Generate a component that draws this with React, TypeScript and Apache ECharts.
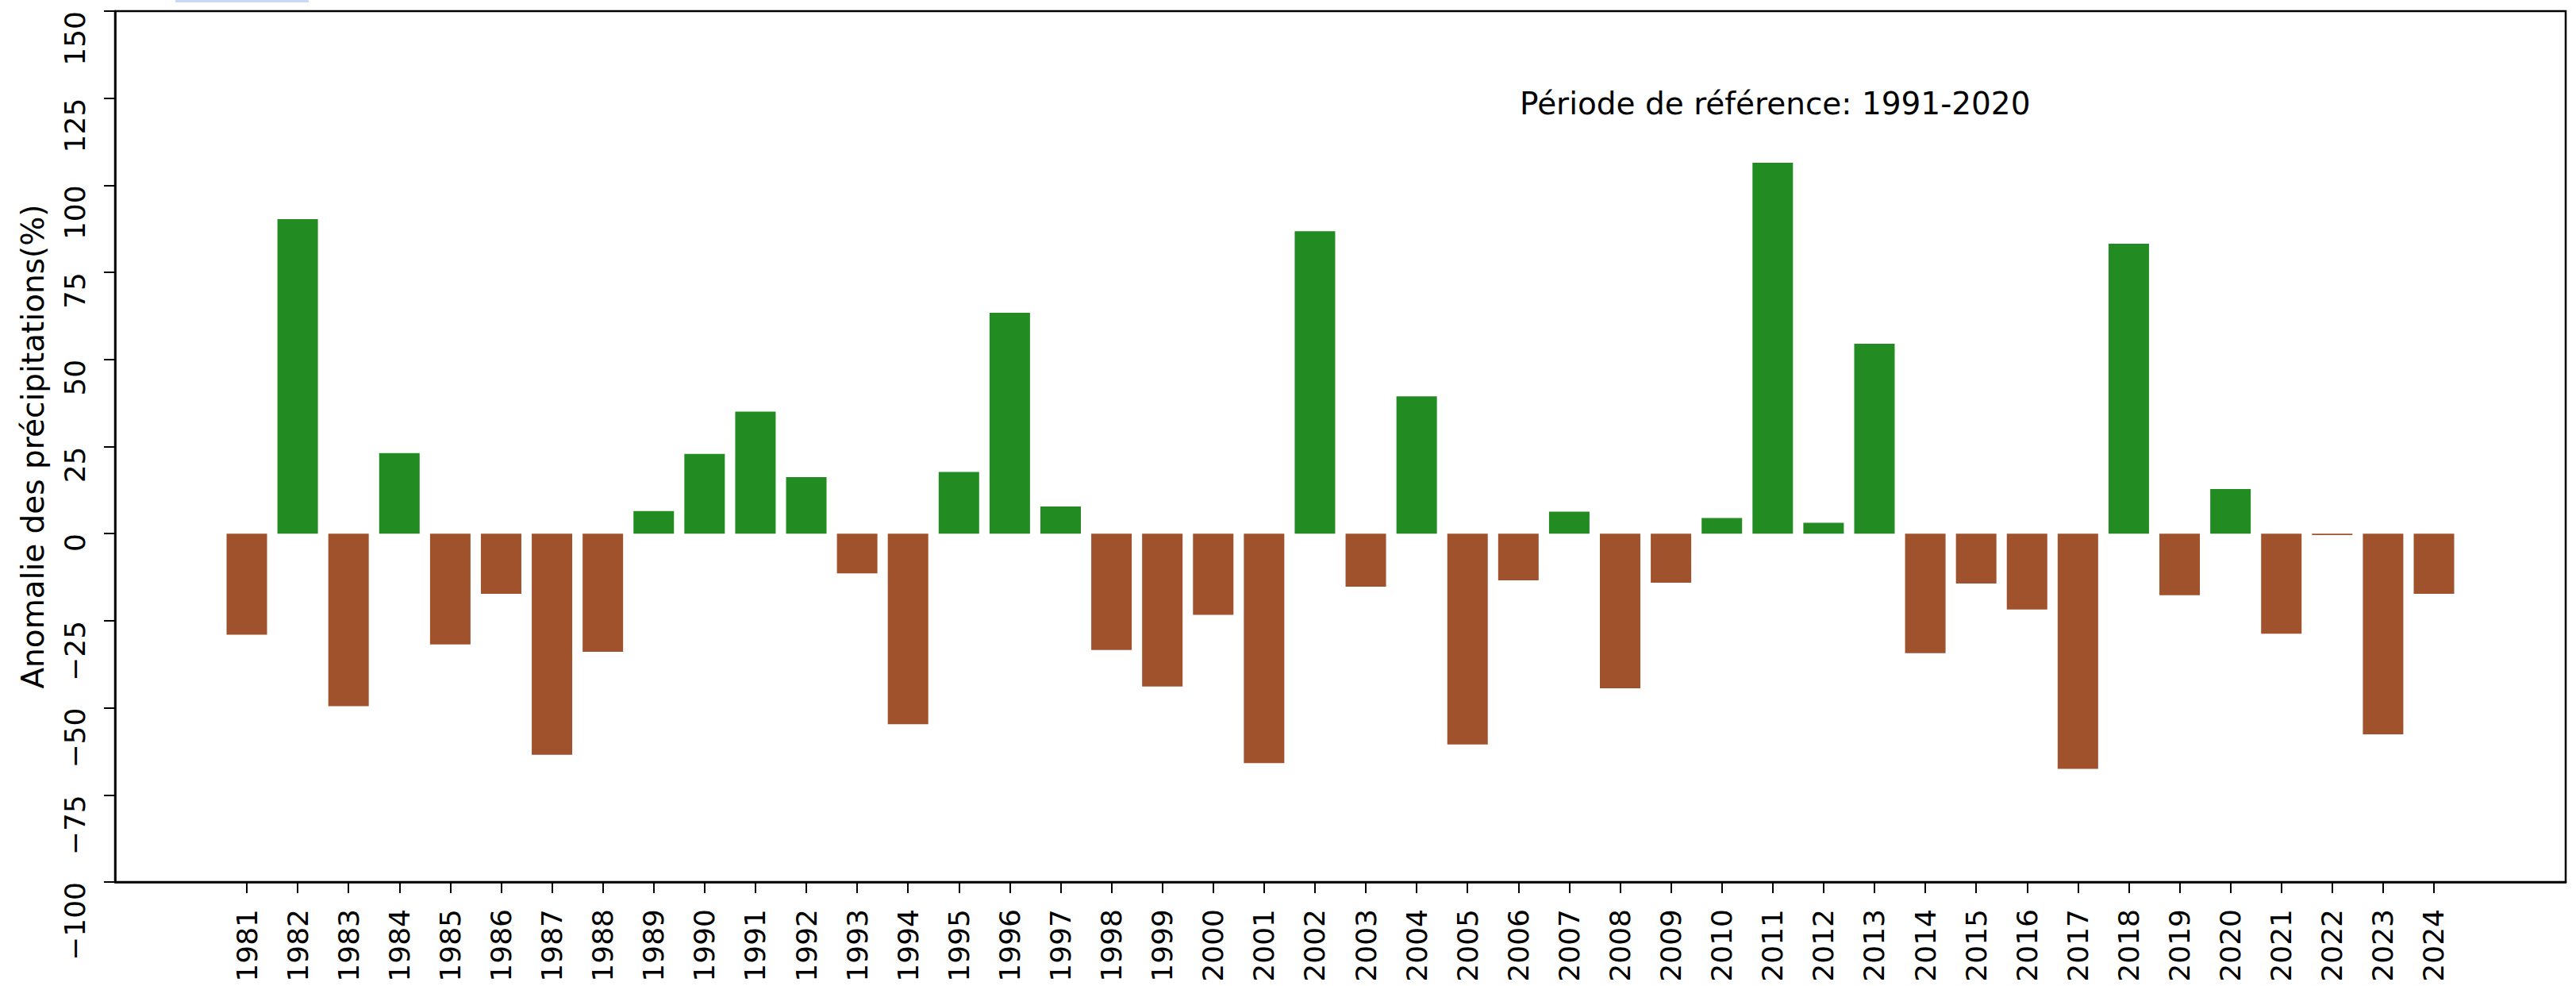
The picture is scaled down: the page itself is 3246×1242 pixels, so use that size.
import React, { useEffect, useRef } from "react";
import * as echarts from "echarts";

const years: number[] = [
  1981, 1982, 1983, 1984, 1985, 1986, 1987, 1988, 1989, 1990, 1991, 1992, 1993, 1994, 1995,
  1996, 1997, 1998, 1999, 2000, 2001, 2002, 2003, 2004, 2005, 2006, 2007, 2008, 2009, 2010,
  2011, 2012, 2013, 2014, 2015, 2016, 2017, 2018, 2019, 2020, 2021, 2022, 2023, 2024,
];

const anomalies: number[] = [
  -29.0, 90.3, -49.5, 23.1, -31.8, -17.3, -63.5, -33.9, 6.5, 22.9, 35.0, 16.2, -11.4, -54.7, 17.7,
  63.4, 7.8, -33.4, -43.9, -23.3, -65.9, 86.8, -15.2, 39.4, -60.5, -13.4, 6.3, -44.4, -14.1, 4.5,
  106.5, 3.1, 54.5, -34.3, -14.3, -21.8, -67.5, 83.2, -17.7, 12.8, -28.7, -0.4, -57.6, -17.3,
];

const yTickValues: number[] = [-100, -75, -50, -25, 0, 25, 50, 75, 100, 125, 150];
const yAxisTitle = "Anomalie des précipitations(%)";
const referenceNote = "Période de référence: 1991-2020";

const GREEN = "#228B22";
const BROWN = "#A0522D";
const FONT = "DejaVu Sans";

export default function App() {
  const ref = useRef<HTMLDivElement | null>(null);

  useEffect(() => {
    if (!ref.current) return;
    const chart = echarts.init(ref.current, null, { renderer: "svg" });
    const option: any = {
      animation: false,
      backgroundColor: "#ffffff",
      grid: {
        left: 145,
        top: 14,
        width: 3088,
        height: 1097,
        containLabel: false,
        outerBoundsMode: "none",
        show: true,
        borderColor: "#000000",
        borderWidth: 2.5,
        backgroundColor: "transparent",
      },
      xAxis: {
        type: "value",
        min: 1978.41,
        max: 2026.59,
        splitLine: { show: false },
        axisLine: { show: true, onZero: false, lineStyle: { color: "#000", width: 2.5 } },
        axisTick: {
          show: true,
          customValues: years,
          length: 14,
          lineStyle: { color: "#000", width: 2 },
        },
        axisLabel: {
          customValues: years,
          rotate: 90,
          margin: 34,
          fontSize: 36,
          fontFamily: FONT,
          color: "#000",
          formatter: (v: number) => String(v),
        },
      },
      yAxis: {
        type: "value",
        min: -100,
        max: 150,
        interval: 25,
        splitLine: { show: false },
        axisLine: { show: true, lineStyle: { color: "#000", width: 2.5 } },
        axisTick: { show: true, length: 14, lineStyle: { color: "#000", width: 2 } },
        axisLabel: {
          rotate: 90,
          margin: 33,
          align: "right",
          verticalAlign: "bottom",
          fontSize: 36,
          fontFamily: FONT,
          color: "#000",
          formatter: (v: number) => (yTickValues.includes(v) ? String(v).replace("-", "\u2212") : ""),
        },
        name: yAxisTitle,
        nameLocation: "middle",
        nameRotate: 90,
        nameGap: 84,
        nameTextStyle: { fontSize: 39, fontFamily: FONT, color: "#000" },
      },
      series: [
        {
          type: "bar",
          barWidth: 51,
          data: years.map((y, i) => [y, anomalies[i]]),
          itemStyle: {
            color: (p: any) => (p.value[1] >= 0 ? GREEN : BROWN),
          },
        },
      ],
      graphic: [
        {
          type: "text",
          x: 1915,
          y: 130,
          style: {
            text: referenceNote,
            fontSize: 39,
            fontFamily: FONT,
            fill: "#000",
            align: "left",
            verticalAlign: "middle",
          },
        },
        {
          type: "rect",
          shape: { x: 221, y: 0, width: 168, height: 3 },
          style: { fill: "#c9d6f7" },
        },
      ],
    };
    chart.setOption(option);
    return () => chart.dispose();
  }, []);

  return (
    <div
      ref={ref}
      style={{ position: "absolute", left: 0, top: 0, width: 3246, height: 1242, background: "#fff" }}
    />
  );
}
